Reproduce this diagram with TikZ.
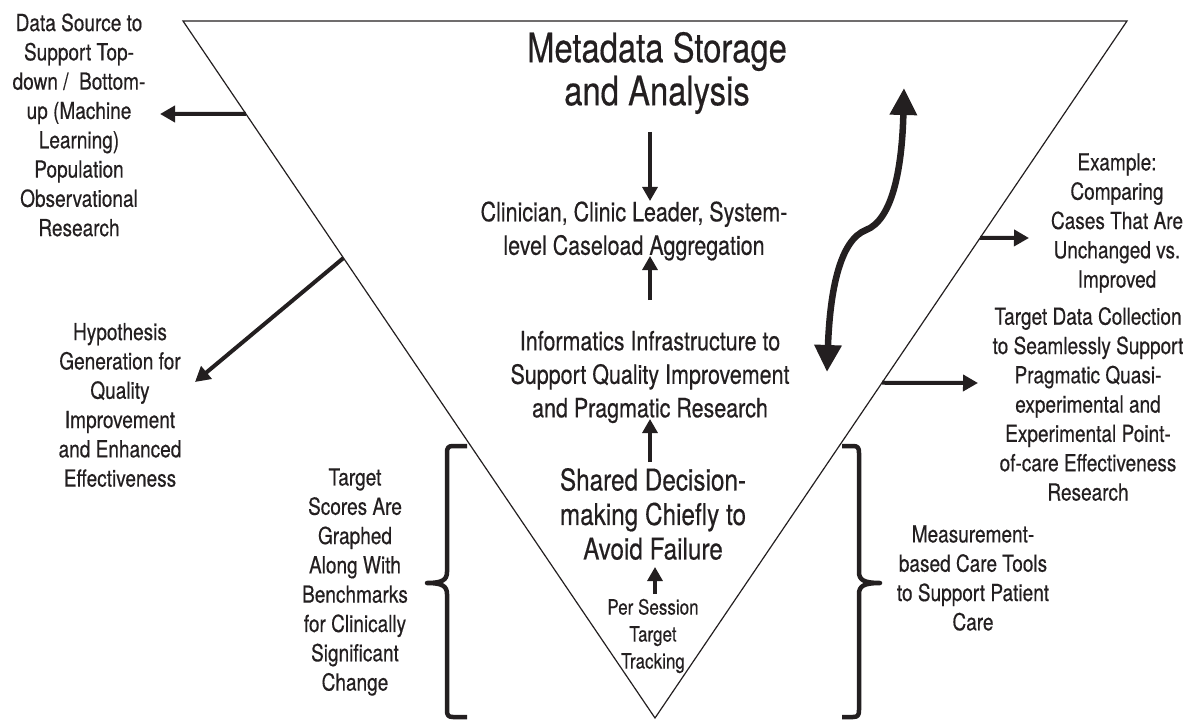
\documentclass[tikz,border=0pt]{standalone}
\usepackage{fontspec}
\setmainfont[FakeStretch=0.81,FakeBold=0.4]{TeX Gyre Heros}
\usetikzlibrary{arrows.meta,calc}
\definecolor{ink}{HTML}{231F20}
\begin{document}
\begin{tikzpicture}[x=1pt,y=-1pt,
  txt/.style={align=center,inner sep=0pt,text=ink},
  side/.style={txt,font=\fontsize{23.5}{29.3}\selectfont},
  mid/.style={txt,font=\fontsize{26.5}{33.5}\selectfont},
  arr/.style={draw=ink,line width=4pt,-{Triangle[length=15pt,width=16pt]}},
  carr/.style={draw=ink,line width=3.2pt,-{Triangle[length=14pt,width=15pt]}},
  bigarr/.style={draw=ink,line width=6.5pt,{Triangle[length=27pt,width=26pt]}-{Triangle[length=27pt,width=26pt]}},
  brace/.style={draw=ink,line width=4.5pt,line cap=butt,line join=round},
  edge/.style={draw=ink,line width=1.2pt}]
\useasboundingbox (0,0) rectangle (1189,722);
% funnel
\coordinate (L) at (183,21);
\coordinate (R) at (1127,21);
\coordinate (B) at (655,718);
\draw[edge] (L) -- (R) -- (B) -- cycle;
% center texts
\node[txt,font=\fontsize{40.5}{43}\selectfont] (title) at (657,73) {Metadata Storage\\and Analysis};
\node[mid] (clin) at (634,231) {Clinician, Clinic Leader, System-\\level Caseload Aggregation};
\node[mid] (info) at (650,377) {Informatics Infrastructure to\\Support Quality Improvement\\and Pragmatic Research};
\node[txt,font=\fontsize{30}{34.5}\selectfont] (shared) at (653,514) {Shared Decision-\\making Chiefly to\\Avoid Failure};
\node[txt,font=\fontsize{21}{27}\selectfont] (per) at (653,636) {Per Session\\Target\\Tracking};
% center arrows
\coordinate (a1s) at (650,132);
\coordinate (a1e) at (650,201);
\draw[carr] (a1s) -- (a1e);
\coordinate (a2s) at (650,300);
\coordinate (a2e) at (650,256);
\draw[carr] (a2s) -- (a2e);
\coordinate (a3s) at (650,462);
\coordinate (a3e) at (650,419);
\draw[carr] (a3s) -- (a3e);
\coordinate (a4s) at (655,594);
\coordinate (a4e) at (655,567);
\draw[carr] (a4s) -- (a4e);
% wavy double arrow
\coordinate (wb) at (827,372);
\coordinate (wt) at (904,88);
\draw[bigarr] (wb) .. controls (830,290) and (840,240) .. (866,230) .. controls (892,220) and (902,170) .. (wt);
% side texts
\node[side] (data) at (79,125) {Data Source to\\Support Top-\\down / \ Bottom-\\up (Machine\\Learning)\\Population\\Observational\\Research};
\node[side] (hyp) at (120,405) {Hypothesis\\Generation for\\Quality\\Improvement\\and Enhanced\\Effectiveness};
\node[side] (target) at (355,582) {Target\\Scores Are\\Graphed\\Along With\\Benchmarks\\for Clinically\\Significant\\Change};
\node[side] (example) at (1117,223) {Example:\\Comparing\\Cases That Are\\Unchanged vs.\\Improved};
\node[side] (tdc) at (1088,404) {Target Data Collection\\to Seamlessly Support\\Pragmatic Quasi-\\experimental and\\Experimental Point-\\of-care Effectiveness\\Research};
\node[side] (meas) at (973,578) {Measurement-\\based Care Tools\\to Support Patient\\Care};
% side arrows
\coordinate (e1) at ($(L)!0.1334!(B)$);
\coordinate (e1t) at (160,114);
\draw[arr] (e1) -- (e1t);
\coordinate (e2) at ($(L)!0.34!(B)$);
\coordinate (e2t) at (195,382);
\draw[arr] (e2) -- (e2t);
\coordinate (e3) at ($(R)!0.311!(B)$);
\coordinate (e3t) at (1029,238);
\draw[arr] (e3) -- (e3t);
\coordinate (e4) at ($(R)!0.519!(B)$);
\coordinate (e4t) at (978,383);
\draw[arr] (e4) -- (e4t);
% braces
\draw[brace] (467,446) -- (453,446) .. controls (448,446) and (447,448) .. (447,453) -- (447,572) .. controls (447,580) and (442,583) .. (427,583) .. controls (442,583) and (447,586) .. (447,594) -- (447,710) .. controls (447,715) and (448,717) .. (453,717) -- (467,717);
\draw[brace] (842,446) -- (853,446) .. controls (858,446) and (859,448) .. (859,453) -- (859,572) .. controls (859,580) and (864,583) .. (880,583) .. controls (864,583) and (859,586) .. (859,594) -- (859,710) .. controls (859,715) and (858,717) .. (853,717) -- (842,717);
\end{tikzpicture}
\end{document}
